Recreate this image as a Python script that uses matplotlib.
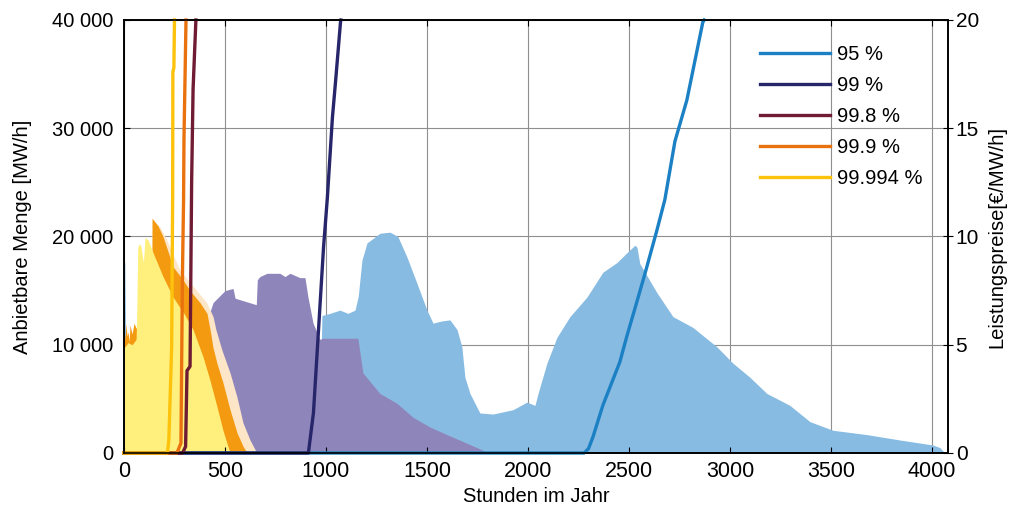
import matplotlib
matplotlib.use("Agg")
import matplotlib.pyplot as plt
from matplotlib.ticker import FuncFormatter, MultipleLocator

plt.rcParams['font.family'] = ['Liberation Sans', 'DejaVu Sans']

# offered volume [MW/h] per hour of the year, one curve per confidence level
blue_h = [0, 4, 7, 9, 975, 980, 1020, 1069, 1109, 1144, 1160, 1178, 1203, 1267, 1317, 1356, 1401,
          1450, 1500, 1530, 1574, 1614, 1649, 1673, 1688, 1713, 1762, 1827, 1926, 1995, 2035, 2050,
          2094, 2144, 2208, 2292, 2371, 2441, 2490, 2530, 2540, 2554, 2639, 2718, 2817, 2936, 3015,
          3099, 3183, 3297, 3396, 3510, 3678, 3842, 4005, 4040, 4064]
blue_mw = [18000, 17500, 12000, 8000, 8000, 12700, 12900, 13200, 12900, 13200, 14500, 17800, 19400,
           20300, 20400, 20000, 18100, 15700, 13200, 12000, 12200, 12300, 11400, 9800, 7000, 5500,
           3700, 3600, 4000, 4700, 4400, 5500, 8300, 10700, 12600, 14400, 16700, 17600, 18500, 19200,
           19000, 17500, 14800, 12600, 11600, 9800, 8300, 7000, 5500, 4400, 2900, 2100, 1700, 1200,
           740, 500, 0]

purple_h = [0, 60, 68, 425, 441, 500, 540, 550, 655, 660, 673, 708, 772, 797, 822, 871, 896, 911,
            936, 970, 985, 1158, 1183, 1267, 1351, 1431, 1515, 1599, 1698, 1797, 1810]
purple_mw = [9000, 9000, 12000, 13000, 13900, 15000, 15200, 14300, 13700, 16000, 16300, 16600,
             16600, 16300, 16600, 16200, 16200, 14400, 12000, 10500, 10600, 10600, 7400, 5500, 4600,
             3300, 2400, 1700, 900, 100, 0]

peach_h = [0, 60, 68, 138, 139, 178, 211, 277, 360, 409, 441, 455, 485, 525, 559, 589, 624, 658]
peach_mw = [9000, 9000, 12000, 15000, 21500, 20900, 19700, 16900, 15000, 13900, 12600, 11400, 9500,
            7400, 5200, 2800, 1200, 0]

orange_h = [0, 5, 10, 15, 20, 25, 30, 40, 50, 60, 66, 138, 139, 168, 193, 243, 292, 327, 376, 411,
            430, 440, 460, 490, 525, 560, 590, 610]
orange_mw = [11500, 10500, 12000, 10800, 11200, 10300, 11800, 11000, 12000, 11500, 12000, 15000,
             21700, 21000, 20000, 17200, 16000, 15000, 13900, 12900, 11000, 9800, 8300, 6500, 4000,
             1850, 600, 0]

yellow_h = [0, 5, 20, 40, 60, 63, 68, 75, 83, 96, 104, 119, 144, 193, 243, 300, 342, 391, 426, 460,
            490, 525]
yellow_mw = [10000, 9800, 10200, 10000, 10500, 13000, 19000, 19300, 19200, 17600, 19900, 19700,
             18500, 16300, 14400, 12800, 11400, 8900, 6700, 4300, 2100, 0]

# capacity price [EUR/MW/h]
line95_h = [0, 2278, 2300, 2322, 2371, 2455, 2490, 2540, 2580, 2639, 2678, 2728, 2787, 2866, 2873]
line95_p = [0, 0, 0.2, 0.74, 2.2, 4.2, 5.4, 7.0, 8.3, 10.3, 11.7, 14.4, 16.3, 19.9, 20]
line99_h = [0, 913, 938, 958, 973, 988, 1007, 1032, 1047, 1072, 1074]
line99_p = [0, 0, 1.85, 4.9, 7.2, 9.5, 11.8, 15.5, 17.1, 19.9, 20]
line998_h = [0, 290, 305, 312, 327, 335, 342, 356]
line998_p = [0, 0, 0.3, 3.8, 4.0, 12.6, 16.8, 20]
line999_h = [0, 262, 282, 287, 290, 295, 297, 307]
line999_p = [0, 0, 0.46, 5.7, 8.6, 11.7, 14.5, 20]
line99994_h = [0, 215, 222, 236, 241, 242, 247, 250]
line99994_p = [0, 0, 0.6, 4.9, 12.0, 17.6, 17.8, 20]

labels = ['95 %', '99 %', '99.8 %', '99.9 %', '99.994 %']
line_colors = ['#1b80c4', '#28266b', '#6e1b33', '#ea720e', '#fdc20b']
fill_colors = ['#88bbe2', '#8e86ba', '#fde5c7', '#f39a10', '#fff07e']

fs = 14.5

fig = plt.figure(figsize=(10.1, 5.13), dpi=100)
ax = fig.add_axes([124 / 1010, 60 / 513, 824 / 1010, 433 / 513])
ax2 = ax.twinx()

fills = [(blue_h, blue_mw), (purple_h, purple_mw), (peach_h, peach_mw),
         (orange_h, orange_mw), (yellow_h, yellow_mw)]
for (h, mw), c in zip(fills, fill_colors):
    ax.fill_between(h, 0, mw, color=c, linewidth=0)

lines = [(line95_h, line95_p), (line99_h, line99_p), (line998_h, line998_p),
         (line999_h, line999_p), (line99994_h, line99994_p)]
for (h, p), c, lab in zip(lines, line_colors, labels):
    ax2.plot(h, p, color=c, lw=2.4, label=lab, clip_on=False)

ax.set_xlim(0, 4080)
ax.set_ylim(0, 40000)
ax2.set_ylim(0, 20)

ax.xaxis.set_major_locator(MultipleLocator(500))
ax.yaxis.set_major_locator(MultipleLocator(10000))
ax.yaxis.set_major_formatter(FuncFormatter(lambda v, p: f"{int(v):,}".replace(",", " ")))
ax2.yaxis.set_major_locator(MultipleLocator(5))

ax.set_axisbelow(True)
ax.grid(True, color='#8f8f8f', lw=0.8)

ax.tick_params(axis='x', length=0, labelsize=15.5, pad=6)
ax.tick_params(axis='y', direction='in', length=4, labelsize=fs, pad=8)
ax2.tick_params(axis='y', direction='inout', length=7, labelsize=15, pad=2)
# tick marks on top and bottom edge, drawn above the fills
ax2.xaxis.set_visible(True)
ax2.tick_params(axis='x', direction='in', length=4, top=True, bottom=True,
                labelbottom=False, labeltop=False)

for a in (ax, ax2):
    for s in a.spines.values():
        s.set_linewidth(1.2)

ax.set_xlabel('Stunden im Jahr', fontsize=fs, labelpad=3)
ax.set_ylabel('Anbietbare Menge [MW/h]', fontsize=fs, labelpad=14)
ax2.set_ylabel('Leistungspreise[€/MW/h]', fontsize=fs, labelpad=6)

ax2.legend(loc='upper left', bbox_to_anchor=(760 / 1010, 1 - 45 / 513),
           bbox_transform=fig.transFigure, frameon=False, fontsize=fs,
           handlelength=3.5, handletextpad=0.3, labelspacing=0.6,
           borderpad=0, borderaxespad=0)

fig.savefig('out.png', dpi=100)
